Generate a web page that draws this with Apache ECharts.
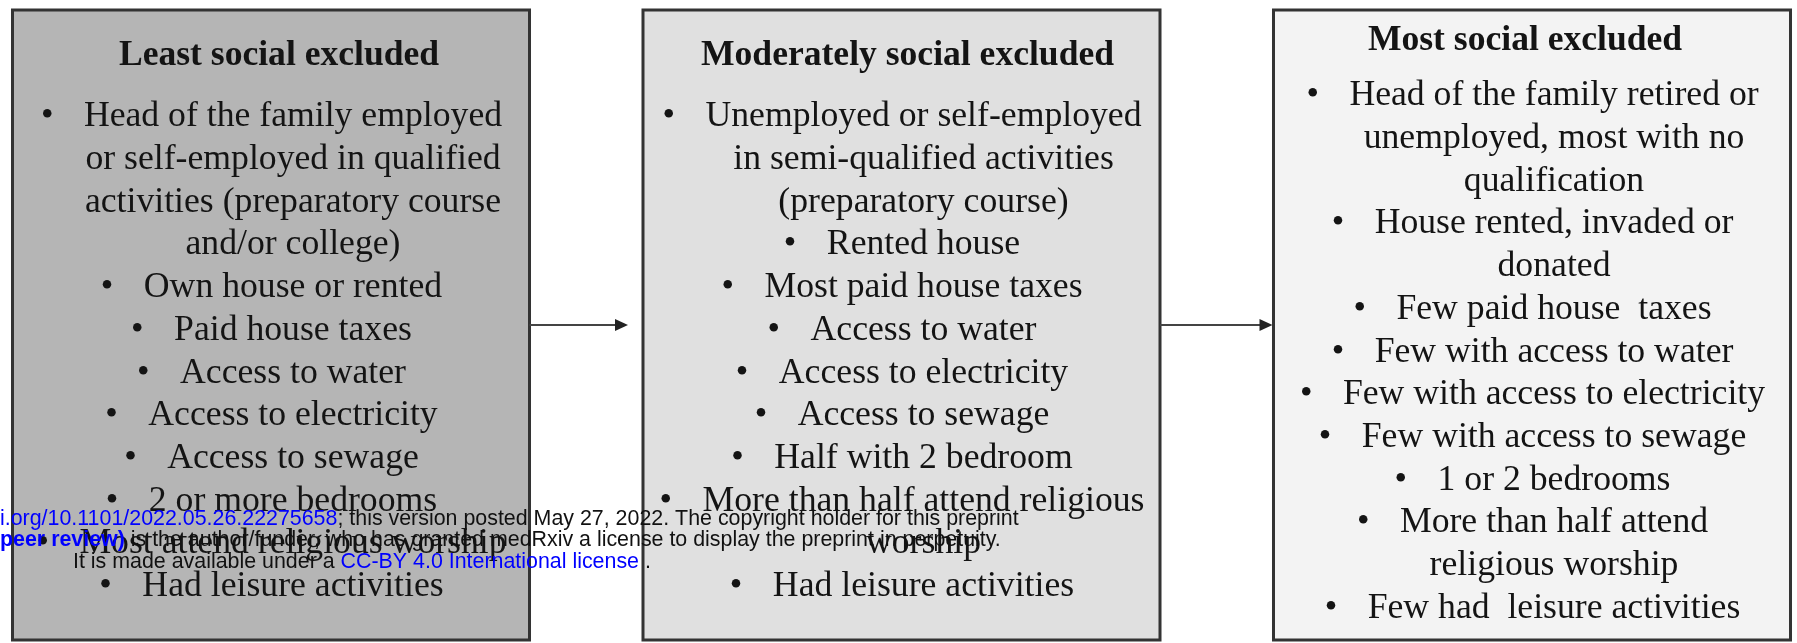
<!DOCTYPE html>
<html><head><meta charset="utf-8">
<script src="https://cdn.jsdelivr.net/npm/echarts@6/dist/echarts.min.js"></script>
<style>html,body{margin:0;padding:0;background:#fff}#c{width:1797px;height:643px}</style>
</head><body><div id="c"></div>
<script>
// ---- content ----
const stageTitles = ['Least social excluded', 'Moderately social excluded', 'Most social excluded'];
const leastItems = [
  ['Head of the family employed', 'or self-employed in qualified', 'activities (preparatory course', 'and/or college)'],
  ['Own house or rented'],
  ['Paid house taxes'],
  ['Access to water'],
  ['Access to electricity'],
  ['Access to sewage'],
  ['2 or more bedrooms'],
  ['Most attend religious worship'],
  ['Had leisure activities']
];
const moderateItems = [
  ['Unemployed or self-employed', 'in semi-qualified activities', '(preparatory course)'],
  ['Rented house'],
  ['Most paid house taxes'],
  ['Access to water'],
  ['Access to electricity'],
  ['Access to sewage'],
  ['Half with 2 bedroom'],
  ['More than half attend religious', 'worship'],
  ['Had leisure activities']
];
const mostItems = [
  ['Head of the family retired or', 'unemployed, most with no', 'qualification'],
  ['House rented, invaded or', 'donated'],
  ['Few paid house  taxes'],
  ['Few with access to water'],
  ['Few with access to electricity'],
  ['Few with access to sewage'],
  ['1 or 2 bedrooms'],
  ['More than half attend', 'religious worship'],
  ['Few had  leisure activities']
];
const stageItems = [leastItems, moderateItems, mostItems];
const watermarkLine1 = ['i.org/10.1101/2022.05.26.22275658', '; this version posted May 27, 2022. The copyright holder for this preprint'];
const watermarkLine2 = ['peer review)', ' is the author/funder, who has granted medRxiv a license to display the preprint in perpetuity.'];
const watermarkLine3 = ['It is made available under a ', 'CC-BY 4.0 International license', ' .'];

// ---- layout / style ----
const boxFill = ['#b5b5b5', '#e0e0e0', '#f3f3f3'];
const titleY = [56, 56, 41];
const titleShift = [8, 6, -7];
const firstLineY = [117, 117, 96];
const LINE = 42.7;
const HALF_W = 0.41;
const BOX_TOP = 10, BOX_BOTTOM = 640;
const TEXT_SHIFT = 22;
const ARROW_Y = 325;
const arrowTipGap = [15, 1];
const SERIF = '"Liberation Serif","Times New Roman",serif';
const SANS = '"Liberation Sans",Arial,Helvetica,sans-serif';
const TXT = '#141414';
const FS = '35.7px ';

const richBullet = {
  b: { width: 43, align: 'left', font: FS + SERIF, fill: TXT },
  t: { font: FS + SERIF, fill: TXT },
  s: { width: 43, font: FS + SERIF, fill: TXT }
};

function renderItem(params, api) {
  const i = api.value(0);
  const tl = api.coord([i - HALF_W, BOX_TOP]);
  const br = api.coord([i + HALF_W, BOX_BOTTOM]);
  const cx = (tl[0] + br[0]) / 2;
  const children = [];
  children.push({
    type: 'rect',
    shape: { x: tl[0], y: tl[1], width: br[0] - tl[0], height: br[1] - tl[1] },
    style: { fill: boxFill[i], stroke: '#333', lineWidth: 3 }
  });
  children.push({
    type: 'text',
    style: {
      text: stageTitles[i], x: cx + titleShift[i], y: api.coord([i, titleY[i]])[1],
      align: 'center', verticalAlign: 'middle',
      font: 'bold 35.6px ' + SERIF, fill: TXT
    }
  });
  let k = 0;
  stageItems[i].forEach(function (item) {
    item.forEach(function (line, j) {
      const y = api.coord([i, firstLineY[i] + k * LINE])[1];
      const txt = j === 0 ? '{b|\u2022}{t|' + line + '}{s| }' : '{t|' + line + '}';
      children.push({
        type: 'text',
        style: {
          text: txt, x: cx + TEXT_SHIFT, y: y,
          align: 'center', verticalAlign: 'middle',
          font: FS + SERIF, fill: TXT, rich: richBullet
        }
      });
      k++;
    });
  });
  if (i < stageTitles.length - 1) {
    const nextLeft = api.coord([i + 1 - HALF_W, BOX_TOP])[0];
    const tip = nextLeft - arrowTipGap[i];
    const ay = api.coord([i, ARROW_Y])[1];
    children.push({
      type: 'line',
      shape: { x1: br[0], y1: ay, x2: tip - 8, y2: ay },
      style: { stroke: '#444', lineWidth: 1.8 }
    });
    children.push({
      type: 'polygon',
      shape: { points: [[tip, ay], [tip - 13, ay - 6], [tip - 13, ay + 6]] },
      style: { fill: '#222' }
    });
  }
  return { type: 'group', children: children };
}

const chart = echarts.init(document.getElementById('c'), null, { renderer: 'canvas' });
const unit = 630.5, c0 = 271;
const xmin = -c0 / unit, xmax = xmin + 1797 / unit;

const WFS = '21.4px ';
const wmRich = {
  u: { font: WFS + SANS, fill: '#0000ff' },
  ub: { font: 'bold ' + WFS + SANS, fill: '#0000ff' },
  k: { font: WFS + SANS, fill: '#111' }
};

chart.setOption({
  backgroundColor: '#ffffff',
  animation: false,
  grid: { left: 0, right: 0, top: 0, bottom: 0 },
  xAxis: { type: 'value', min: xmin, max: xmax, show: false },
  yAxis: { type: 'value', min: 0, max: 643, inverse: true, show: false },
  series: [{
    type: 'custom',
    clip: false,
    renderItem: renderItem,
    data: stageTitles.map(function (t, i) { return [i]; })
  }],
  graphic: [
    { type: 'text', x: 0, y: 519, z: 100, style: { text: '{u|' + watermarkLine1[0] + '}{k|' + watermarkLine1[1] + '}', verticalAlign: 'middle', align: 'left', rich: wmRich, font: WFS + SANS } },
    { type: 'text', x: 0, y: 540, z: 100, style: { text: '{ub|' + watermarkLine2[0] + '}{k|' + watermarkLine2[1] + '}', verticalAlign: 'middle', align: 'left', rich: wmRich, font: WFS + SANS } },
    { type: 'text', x: 73, y: 562, z: 100, style: { text: '{k|' + watermarkLine3[0] + '}{u|' + watermarkLine3[1] + '}{k|' + watermarkLine3[2] + '}', verticalAlign: 'middle', align: 'left', rich: wmRich, font: WFS + SANS } }
  ]
});
</script></body></html>
